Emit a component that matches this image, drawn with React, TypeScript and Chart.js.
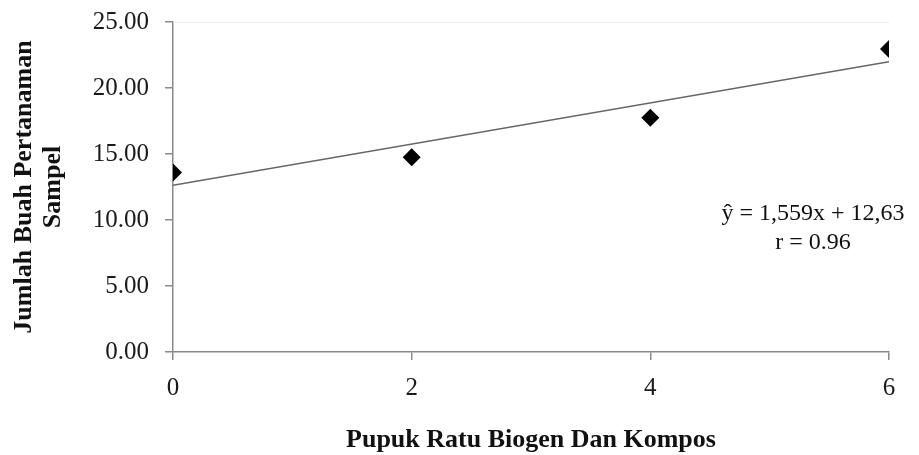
import React, { useEffect, useRef } from "react";
import { Chart, registerables } from "chart.js";

Chart.register(...registerables);

// Dosis pupuk (x) dan jumlah buah per tanaman sampel (y)
const doses = [0, 2, 4, 6];
const fruitCounts = [13.6, 14.75, 17.75, 22.95];

// Regresi linear: ŷ = 1,559x + 12,63
const slope = 1.559;
const intercept = 12.63;
const equationLines = ["ŷ = 1,559x + 12,63", "r = 0.96"];

const xTitle = "Pupuk Ratu Biogen Dan Kompos";
const yTitle = ["Jumlah Buah Pertanaman", "Sampel"];

const axisGrey = "#8a8a8a";
const serif = "'Liberation Serif', 'Times New Roman', serif";

const equationPlugin = {
  id: "equationText",
  beforeDatasetsDraw(chart: any) {
    const { ctx, chartArea } = chart;
    ctx.save();
    ctx.strokeStyle = "#ececec";
    ctx.lineWidth = 1;
    ctx.beginPath();
    ctx.moveTo(chartArea.left, chartArea.top + 0.5);
    ctx.lineTo(chartArea.right, chartArea.top + 0.5);
    ctx.stroke();
    ctx.restore();
  },
  afterDatasetsDraw(chart: any) {
    const { ctx, chartArea } = chart;
    ctx.save();
    ctx.fillStyle = "#111";
    ctx.font = `24px ${serif}`;
    ctx.textAlign = "center";
    ctx.textBaseline = "middle";
    const cx = chartArea.right - 76;
    ctx.fillText(equationLines[0], cx, chartArea.top + 192);
    ctx.fillText(equationLines[1], cx, chartArea.top + 221);
    ctx.restore();
  },
};

export default function App() {
  const canvasRef = useRef<HTMLCanvasElement | null>(null);

  useEffect(() => {
    if (!canvasRef.current) return;
    const trend = [
      { x: doses[0], y: intercept + slope * doses[0] },
      { x: doses[doses.length - 1], y: intercept + slope * doses[doses.length - 1] },
    ];
    const chart = new Chart(canvasRef.current, {
      type: "scatter",
      data: {
        datasets: [
          {
            label: "Trend",
            type: "line",
            data: trend,
            borderColor: "#666666",
            borderWidth: 1.6,
            pointRadius: 0,
            fill: false,
          } as any,
          {
            label: "Jumlah buah",
            data: doses.map((d, i) => ({ x: d, y: fruitCounts[i] })),
            pointStyle: "rectRot",
            pointRadius: 9,
            pointBackgroundColor: "#000",
            pointBorderColor: "#000",
            pointBorderWidth: 0,
          },
        ],
      },
      options: {
        responsive: false,
        animation: false,
        layout: { padding: { top: 22, right: 30, bottom: 0, left: 0 } },
        plugins: {
          legend: { display: false },
          tooltip: { enabled: false },
        },
        scales: {
          x: {
            type: "linear",
            min: 0,
            max: 6,
            afterFit(scale: any) {
              scale.height = 103;
              scale.paddingLeft = 0;
              scale.paddingRight = 0;
            },
            ticks: {
              stepSize: 2,
              color: "#1a1a1a",
              font: { family: serif, size: 25 },
              padding: 13,
            },
            grid: {
              display: true,
              drawOnChartArea: false,
              color: axisGrey,
              tickLength: 8,
              lineWidth: 1.5,
            },
            border: { display: true, color: axisGrey, width: 1.5 },
            title: {
              display: true,
              text: xTitle,
              color: "#111",
              font: { family: serif, size: 26, weight: "bold", lineHeight: 1.1 },
              padding: { top: 0, bottom: 0 },
            },
          },
          y: {
            min: 0,
            max: 25,
            afterFit(scale: any) {
              scale.width = 173;
              scale.paddingTop = 0;
              scale.paddingBottom = 0;
            },
            ticks: {
              stepSize: 5,
              color: "#1a1a1a",
              font: { family: serif, size: 25 },
              padding: 16,
              callback: (v: any) => Number(v).toFixed(2),
            },
            grid: {
              display: true,
              drawOnChartArea: false,
              color: axisGrey,
              tickLength: 8,
              lineWidth: 1.5,
            },
            border: { display: true, color: axisGrey, width: 1.5 },
            title: {
              display: true,
              text: yTitle,
              color: "#111",
              font: { family: serif, size: 26, weight: "bold", lineHeight: 1.1 },
              padding: { top: 10, bottom: 0 },
            },
          },
        },
      },
      plugins: [equationPlugin],
    });
    return () => chart.destroy();
  }, []);

  return (
    <div style={{ position: "fixed", left: 0, top: 0, width: 919, height: 455, background: "#fff" }}>
      <canvas ref={canvasRef} width={919} height={455} style={{ display: "block" }} />
    </div>
  );
}
